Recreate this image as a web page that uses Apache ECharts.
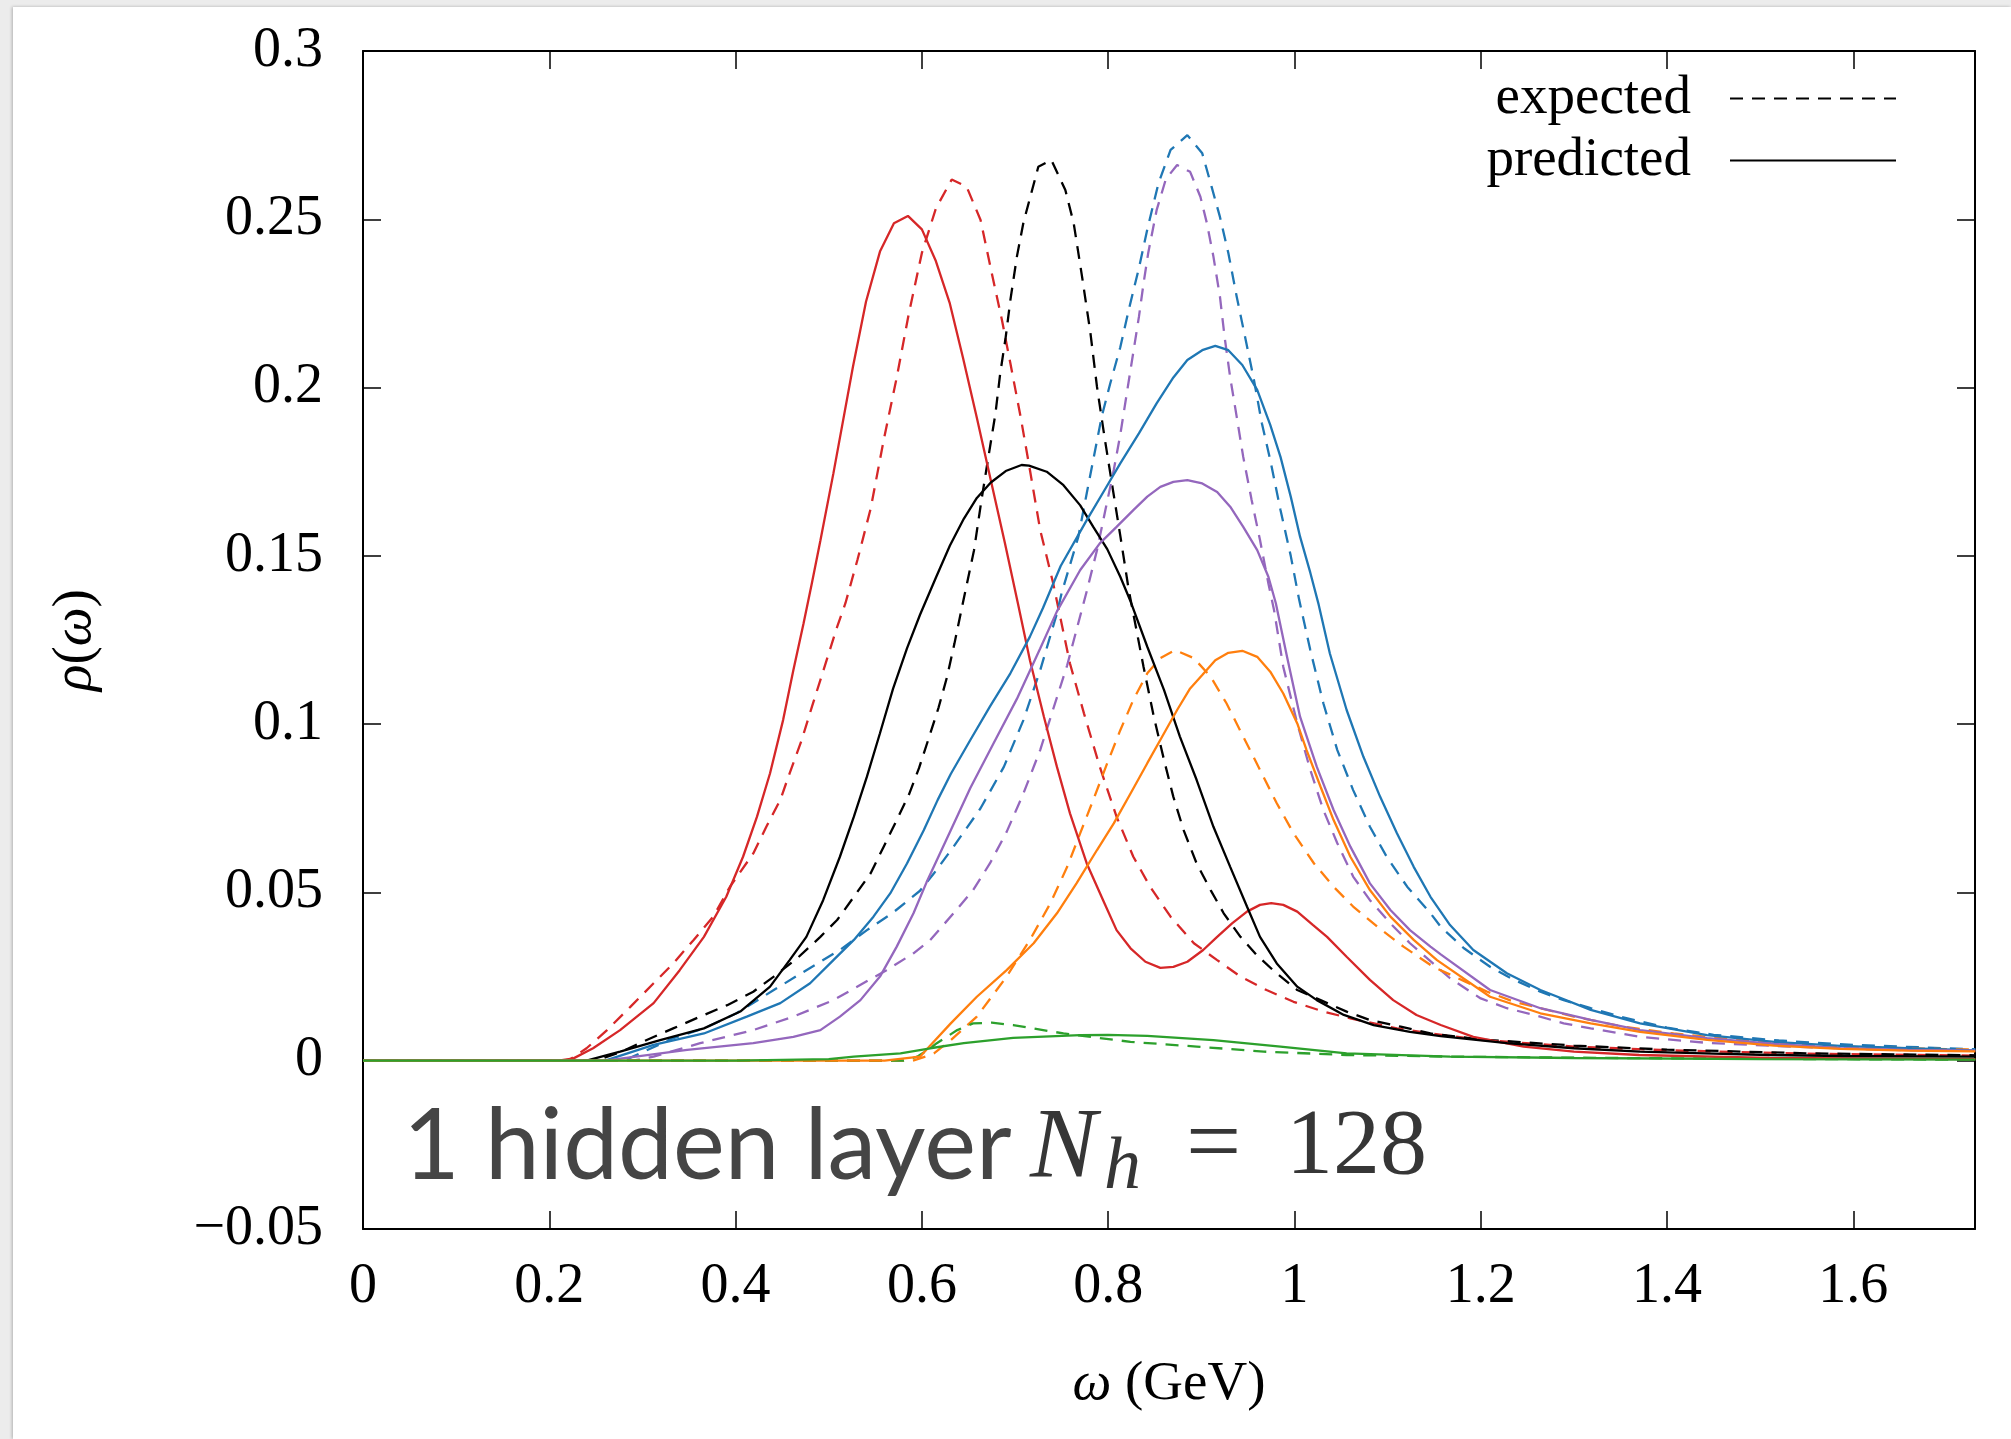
<!DOCTYPE html>
<html>
<head>
<meta charset="utf-8">
<title>Spectral function reconstruction</title>
<script src="https://cdn.jsdelivr.net/npm/echarts@6/dist/echarts.min.js"></script>
<style>
  html, body { margin: 0; padding: 0; width: 2011px; height: 1439px; background: #ececec; overflow: hidden; }
  #card { position: absolute; left: 13px; top: 7px; right: 0; bottom: 0; background: #ffffff;
          box-shadow: -1px 0 3px rgba(0,0,0,0.25); }
  #chart { position: absolute; left: 0; top: 0; width: 2011px; height: 1439px; }
</style>
</head>
<body>
<div id="card"></div>
<div id="chart"></div>
<script>
// Axis ticks and their printed labels
const omegaTicks = [0, 0.2, 0.4, 0.6, 0.8, 1.0, 1.2, 1.4, 1.6];
const omegaTickLabels = ['0', '0.2', '0.4', '0.6', '0.8', '1', '1.2', '1.4', '1.6'];
const rhoTicks = [-0.05, 0, 0.05, 0.1, 0.15, 0.2, 0.25, 0.3];
const rhoTickLabels = ['\u22120.05', '0', '0.05', '0.1', '0.15', '0.2', '0.25', '0.3'];

// Spectral functions rho(omega): [omega (GeV), rho]
const redExpected = [[0,0],[0.22,0],[0.240,0.0037],[0.262,0.0091],[0.287,0.016],[0.312,0.023],[0.333,0.0289],[0.355,0.0359],[0.376,0.0428],[0.394,0.0517],[0.419,0.0616],[0.433,0.0695],[0.448,0.0775],[0.458,0.0854],[0.471,0.0953],[0.482,0.1052],[0.491,0.1131],[0.500,0.121],[0.509,0.1289],[0.518,0.136],[0.531,0.149],[0.545,0.1640],[0.559,0.1844],[0.573,0.203],[0.586,0.222],[0.600,0.240],[0.615,0.2532],[0.632,0.2618],[0.648,0.2597],[0.663,0.2498],[0.675,0.234],[0.686,0.220],[0.695,0.2072],[0.706,0.1913],[0.716,0.1755],[0.727,0.1577],[0.741,0.1418],[0.759,0.118],[0.774,0.1032],[0.791,0.0873],[0.809,0.0725],[0.827,0.0606],[0.845,0.0517],[0.867,0.0428],[0.892,0.0349],[0.917,0.0299],[0.942,0.025],[0.970,0.021],[0.999,0.0175],[1.031,0.0146],[1.06,0.0126],[1.11,0.0096],[1.146,0.0081],[1.2,0.0062],[1.3,0.0042],[1.4,0.0031],[1.55,0.0021],[1.731,0.0015]];
const redPredicted = [[0,0],[0.21,0],[0.226,0.0007],[0.247,0.0037],[0.276,0.0091],[0.312,0.0171],[0.340,0.0269],[0.366,0.0368],[0.390,0.0487],[0.408,0.0606],[0.423,0.0725],[0.437,0.0854],[0.451,0.1012],[0.462,0.1160],[0.473,0.1300],[0.482,0.1420],[0.491,0.1545],[0.505,0.1745],[0.526,0.2062],[0.540,0.2255],[0.555,0.2404],[0.570,0.2488],[0.585,0.251],[0.600,0.247],[0.615,0.2376],[0.630,0.225],[0.644,0.209],[0.659,0.191],[0.674,0.1725],[0.689,0.154],[0.703,0.1360],[0.716,0.119],[0.731,0.1022],[0.745,0.0873],[0.759,0.0735],[0.777,0.0586],[0.796,0.0468],[0.809,0.0388],[0.824,0.0334],[0.840,0.0294],[0.856,0.0276],[0.870,0.0279],[0.885,0.0294],[0.902,0.0329],[0.917,0.0368],[0.933,0.0408],[0.949,0.0443],[0.963,0.0463],[0.975,0.0468],[0.988,0.0463],[1.003,0.0443],[1.020,0.0403],[1.035,0.0368],[1.056,0.0309],[1.081,0.024],[1.106,0.018],[1.131,0.0136],[1.157,0.0106],[1.192,0.0071],[1.246,0.0042],[1.30,0.0027],[1.37,0.0017],[1.51,0.0008],[1.731,0.0005]];
const blackExpected = [[0,0],[0.25,0],[0.276,0.0025],[0.304,0.0061],[0.333,0.0096],[0.362,0.0131],[0.391,0.0165],[0.419,0.0205],[0.441,0.025],[0.466,0.0304],[0.491,0.0368],[0.509,0.0418],[0.527,0.0487],[0.545,0.0557],[0.559,0.0636],[0.573,0.0715],[0.586,0.0790],[0.597,0.0870],[0.607,0.0955],[0.618,0.1050],[0.627,0.114],[0.635,0.124],[0.644,0.136],[0.656,0.1517],[0.664,0.1666],[0.670,0.1770],[0.679,0.1923],[0.684,0.204],[0.690,0.215],[0.695,0.226],[0.702,0.2389],[0.709,0.2490],[0.725,0.2656],[0.739,0.2676],[0.754,0.2587],[0.763,0.2488],[0.772,0.2329],[0.781,0.2161],[0.788,0.2002],[0.796,0.1854],[0.804,0.1715],[0.813,0.1560],[0.822,0.1400],[0.838,0.117],[0.849,0.1022],[0.860,0.0893],[0.870,0.0784],[0.881,0.0685],[0.895,0.0586],[0.910,0.0507],[0.924,0.0438],[0.942,0.0368],[0.959,0.0315],[0.977,0.0269],[1.003,0.021],[1.028,0.018],[1.056,0.0146],[1.081,0.0121],[1.114,0.0101],[1.146,0.0081],[1.2,0.0063],[1.3,0.0045],[1.4,0.0033],[1.55,0.0022],[1.731,0.0016]];
const blackPredicted = [[0,0],[0.24,0],[0.276,0.0027],[0.319,0.0061],[0.366,0.0096],[0.405,0.0146],[0.437,0.022],[0.458,0.0299],[0.476,0.0368],[0.494,0.0477],[0.512,0.0606],[0.527,0.0725],[0.541,0.0844],[0.555,0.0973],[0.569,0.1105],[0.584,0.1225],[0.598,0.1325],[0.615,0.1435],[0.630,0.1530],[0.645,0.1610],[0.659,0.1672],[0.674,0.1718],[0.690,0.1752],[0.707,0.1770],[0.715,0.1768],[0.734,0.175],[0.752,0.171],[0.770,0.165],[0.784,0.1586],[0.799,0.1520],[0.813,0.1438],[0.824,0.1365],[0.842,0.123],[0.860,0.1101],[0.877,0.0963],[0.895,0.0834],[0.913,0.0695],[0.931,0.0576],[0.949,0.0458],[0.963,0.0368],[0.981,0.0289],[1.003,0.022],[1.024,0.018],[1.053,0.0136],[1.085,0.0106],[1.124,0.0086],[1.157,0.0073],[1.228,0.0052],[1.30,0.0037],[1.371,0.0027],[1.44,0.0022],[1.51,0.0017],[1.59,0.0014],[1.731,0.0012]];
const blueExpected = [[0,0],[0.28,0],[0.333,0.0067],[0.366,0.0096],[0.401,0.0141],[0.441,0.021],[0.476,0.0269],[0.512,0.0329],[0.541,0.0388],[0.569,0.0440],[0.598,0.0505],[0.613,0.0557],[0.634,0.0636],[0.663,0.0750],[0.688,0.0873],[0.709,0.1012],[0.727,0.116],[0.745,0.1329],[0.750,0.1389],[0.768,0.1557],[0.777,0.1686],[0.786,0.1814],[0.793,0.1913],[0.802,0.2010],[0.813,0.2120],[0.822,0.223],[0.833,0.2355],[0.842,0.2470],[0.854,0.2607],[0.867,0.2706],[0.885,0.275],[0.901,0.2696],[0.911,0.2597],[0.920,0.2507],[0.929,0.240],[0.938,0.227],[0.947,0.215],[0.956,0.203],[0.965,0.1894],[0.974,0.1785],[0.985,0.1636],[0.996,0.1500],[1.005,0.1370],[1.017,0.122],[1.031,0.1062],[1.046,0.0923],[1.063,0.0804],[1.081,0.0695],[1.099,0.0606],[1.121,0.0517],[1.146,0.0438],[1.157,0.0398],[1.182,0.0334],[1.21,0.0279],[1.236,0.024],[1.264,0.0205],[1.289,0.018],[1.318,0.0156],[1.35,0.0131],[1.40,0.0098],[1.45,0.0077],[1.52,0.006],[1.6,0.0047],[1.731,0.0034]];
const bluePredicted = [[0,0],[0.26,0],[0.312,0.0047],[0.366,0.0081],[0.412,0.0131],[0.448,0.0171],[0.480,0.023],[0.505,0.0299],[0.527,0.0359],[0.548,0.0428],[0.566,0.0497],[0.584,0.0586],[0.602,0.0685],[0.617,0.0775],[0.631,0.0852],[0.652,0.0953],[0.673,0.1052],[0.695,0.1151],[0.716,0.126],[0.730,0.1345],[0.749,0.1470],[0.777,0.1606],[0.796,0.1695],[0.813,0.1775],[0.833,0.1864],[0.852,0.1953],[0.870,0.203],[0.885,0.2082],[0.901,0.2111],[0.915,0.2124],[0.929,0.2111],[0.944,0.2067],[0.960,0.1993],[0.974,0.1889],[0.985,0.1794],[0.996,0.1676],[1.006,0.1557],[1.017,0.1450],[1.026,0.1355],[1.038,0.1210],[1.056,0.1042],[1.074,0.0903],[1.092,0.0784],[1.11,0.0676],[1.128,0.0576],[1.146,0.0487],[1.167,0.0403],[1.192,0.0329],[1.228,0.026],[1.264,0.021],[1.318,0.0151],[1.371,0.0111],[1.443,0.0076],[1.515,0.0056],[1.586,0.0044],[1.658,0.0037],[1.731,0.0031]];
const purpleExpected = [[0,0],[0.29,0],[0.312,0.0012],[0.362,0.0052],[0.419,0.0091],[0.462,0.0131],[0.505,0.018],[0.537,0.023],[0.562,0.0269],[0.591,0.0319],[0.609,0.0359],[0.634,0.0438],[0.655,0.0507],[0.673,0.0586],[0.691,0.0680],[0.709,0.0794],[0.727,0.0923],[0.741,0.1045],[0.756,0.1175],[0.766,0.1280],[0.777,0.1395],[0.788,0.1517],[0.797,0.1636],[0.806,0.1755],[0.813,0.1860],[0.820,0.1983],[0.827,0.2105],[0.833,0.2210],[0.838,0.2310],[0.843,0.2400],[0.852,0.2527],[0.862,0.262],[0.874,0.2661],[0.888,0.2641],[0.899,0.2567],[0.906,0.2488],[0.913,0.2389],[0.920,0.227],[0.925,0.215],[0.931,0.203],[0.938,0.1913],[0.945,0.1794],[0.954,0.1666],[0.963,0.1547],[0.972,0.1418],[0.978,0.134],[0.988,0.117],[1.003,0.1002],[1.017,0.0864],[1.031,0.0745],[1.046,0.0646],[1.063,0.0547],[1.081,0.0477],[1.103,0.0408],[1.124,0.0349],[1.153,0.0279],[1.167,0.0245],[1.20,0.0185],[1.228,0.0156],[1.257,0.0136],[1.289,0.0111],[1.318,0.0096],[1.371,0.0071],[1.443,0.0053],[1.515,0.0044],[1.586,0.0037],[1.658,0.0031],[1.731,0.0029]];
const purplePredicted = [[0,0],[0.26,0],[0.348,0.0032],[0.419,0.0052],[0.462,0.0071],[0.491,0.0091],[0.512,0.0131],[0.534,0.018],[0.555,0.025],[0.573,0.0339],[0.591,0.0438],[0.605,0.0530],[0.631,0.0685],[0.652,0.0810],[0.677,0.0943],[0.702,0.1075],[0.727,0.1225],[0.745,0.1335],[0.770,0.1458],[0.791,0.1537],[0.809,0.1586],[0.827,0.1636],[0.842,0.1676],[0.856,0.1705],[0.870,0.172],[0.885,0.1725],[0.901,0.1715],[0.917,0.169],[0.931,0.1646],[0.945,0.1586],[0.960,0.1517],[0.972,0.1438],[0.980,0.1359],[0.992,0.12],[1.006,0.1022],[1.024,0.0873],[1.042,0.0745],[1.06,0.0636],[1.081,0.0527],[1.103,0.0448],[1.124,0.0388],[1.146,0.0339],[1.157,0.0316],[1.21,0.021],[1.264,0.0156],[1.318,0.0121],[1.371,0.0091],[1.443,0.0067],[1.515,0.005],[1.586,0.0037],[1.658,0.0032],[1.731,0.003]];
const orangeExpected = [[0,0],[0.59,0],[0.607,0.0015],[0.613,0.0022],[0.631,0.0061],[0.659,0.0131],[0.691,0.025],[0.716,0.0359],[0.738,0.0468],[0.756,0.0576],[0.770,0.0676],[0.784,0.0775],[0.799,0.0884],[0.813,0.0982],[0.827,0.1072],[0.842,0.1151],[0.856,0.1196],[0.872,0.122],[0.892,0.1196],[0.910,0.1141],[0.927,0.1062],[0.945,0.0963],[0.963,0.0864],[0.981,0.0765],[0.999,0.0676],[1.021,0.0586],[1.042,0.0517],[1.063,0.0458],[1.089,0.0398],[1.117,0.0339],[1.149,0.0279],[1.207,0.0205],[1.236,0.0175],[1.264,0.0156],[1.30,0.0131],[1.353,0.0101],[1.407,0.0081],[1.479,0.0061],[1.55,0.0047],[1.62,0.0039],[1.731,0.0033]];
const orangePredicted = [[0,0],[0.56,0],[0.598,0.0012],[0.609,0.0045],[0.631,0.0111],[0.659,0.019],[0.691,0.0269],[0.720,0.0349],[0.745,0.0438],[0.766,0.0527],[0.788,0.0626],[0.806,0.0705],[0.824,0.0794],[0.842,0.0884],[0.860,0.0973],[0.874,0.1042],[0.888,0.1106],[0.901,0.1146],[0.915,0.119],[0.929,0.1212],[0.944,0.1218],[0.960,0.12],[0.974,0.1156],[0.988,0.1091],[1.003,0.1002],[1.013,0.0923],[1.028,0.0814],[1.042,0.0715],[1.06,0.0606],[1.081,0.0507],[1.103,0.0428],[1.128,0.0359],[1.153,0.0299],[1.21,0.019],[1.264,0.0141],[1.318,0.0111],[1.371,0.0086],[1.443,0.0062],[1.515,0.0045],[1.586,0.0035],[1.658,0.003],[1.731,0.0028]];
const greenExpected = [[0,0],[0.58,0],[0.595,0.0012],[0.609,0.0037],[0.616,0.0052],[0.638,0.0091],[0.655,0.0111],[0.675,0.0113],[0.698,0.0106],[0.752,0.0081],[0.824,0.0056],[0.895,0.0042],[0.967,0.0027],[1.056,0.0017],[1.17,0.0012],[1.35,0.0008],[1.55,0.0005],[1.731,0.0003]];
const greenPredicted = [[0,0],[0.40,0],[0.50,0.0005],[0.527,0.0012],[0.577,0.0022],[0.609,0.0037],[0.645,0.0052],[0.698,0.0068],[0.770,0.0076],[0.800,0.0077],[0.842,0.0074],[0.913,0.0061],[0.985,0.0042],[1.056,0.0022],[1.167,0.0012],[1.3,0.0008],[1.5,0.0005],[1.731,0.0003]];

const SERIF = '"Liberation Serif", "DejaVu Serif", serif';
const DASH = [13, 9];

function curve(name, data, color, dashed) {
  return {
    name: name,
    type: 'line',
    data: data,
    showSymbol: false,
    symbol: 'none',
    smooth: false,
    silent: true,
    animation: false,
    lineStyle: { color: color, width: 2.3, type: dashed ? DASH : 'solid' },
    z: dashed ? 2 : 3
  };
}

function tickLabel(values, labels) {
  return function (v) {
    for (let i = 0; i < values.length; i++) {
      if (Math.abs(values[i] - v) < 1e-6) return labels[i];
    }
    return '';
  };
}

const chart = echarts.init(document.getElementById('chart'), null, { renderer: 'canvas' });

const tickStyle = { show: true, inside: true, length: 18, lineStyle: { color: '#000', width: 1.5 } };
const frameLine = { show: true, onZero: false, lineStyle: { color: '#000', width: 2 } };

chart.setOption({
  backgroundColor: 'transparent',
  animation: false,
  grid: { left: 363, top: 51, width: 1612, height: 1178, containLabel: false },
  legend: {
    right: 109,
    top: 66,
    orient: 'vertical',
    align: 'right',
    itemWidth: 166,
    itemHeight: 20,
    itemGap: 7,
    selectedMode: false,
    data: ['expected', 'predicted'],
    itemStyle: { opacity: 0 },
    textStyle: { fontFamily: SERIF, fontSize: 55, color: '#000', lineHeight: 55, padding: [0, 34, 0, 0] }
  },
  xAxis: [
    {
      type: 'value', position: 'bottom', min: 0, max: 1.7306,
      name: '{i|\u03c9} (GeV)', nameLocation: 'middle', nameGap: 128,
      nameTextStyle: { fontFamily: SERIF, fontSize: 55, color: '#000',
        rich: { i: { fontFamily: SERIF, fontStyle: 'italic', fontSize: 55, color: '#000' } } },
      axisLine: frameLine,
      axisTick: Object.assign({}, tickStyle, { customValues: omegaTicks }),
      axisLabel: { customValues: omegaTicks, formatter: tickLabel(omegaTicks, omegaTickLabels),
        margin: 30, fontFamily: SERIF, fontSize: 56, color: '#000' },
      splitLine: { show: false }
    },
    {
      type: 'value', position: 'top', min: 0, max: 1.7306,
      axisLine: frameLine,
      axisTick: Object.assign({}, tickStyle, { customValues: omegaTicks }),
      axisLabel: { show: false },
      splitLine: { show: false }
    }
  ],
  yAxis: [
    {
      type: 'value', position: 'left', min: -0.05, max: 0.3,
      name: '{i|\u03c1}({i|\u03c9})', nameLocation: 'middle', nameGap: 260, nameRotate: 90,
      nameTextStyle: { fontFamily: SERIF, fontSize: 55, color: '#000',
        rich: { i: { fontFamily: SERIF, fontStyle: 'italic', fontSize: 55, color: '#000' } } },
      axisLine: frameLine,
      axisTick: Object.assign({}, tickStyle, { customValues: rhoTicks }),
      axisLabel: { customValues: rhoTicks, formatter: tickLabel(rhoTicks, rhoTickLabels),
        margin: 40, fontFamily: SERIF, fontSize: 56, color: '#000' },
      splitLine: { show: false }
    },
    {
      type: 'value', position: 'right', min: -0.05, max: 0.3,
      axisLine: frameLine,
      axisTick: Object.assign({}, tickStyle, { customValues: rhoTicks }),
      axisLabel: { show: false },
      splitLine: { show: false }
    }
  ],
  graphic: [
    { type: 'text', left: 403, top: 1098, silent: true,
      style: { text: '1 hidden layer', font: '98px Lato, "Open Sans", sans-serif', fill: '#454545' } },
    { type: 'text', left: 1030, top: 1100, silent: true,
      style: { text: 'N', font: 'italic 100px ' + SERIF, fill: '#363636' } },
    { type: 'text', left: 1104, top: 1132, silent: true,
      style: { text: 'h', font: 'italic 74px ' + SERIF, fill: '#363636' } },
    { type: 'text', left: 1186, top: 1098, silent: true,
      style: { text: '=', font: '98px ' + SERIF, fill: '#363636' } },
    { type: 'text', left: 1286, top: 1101, silent: true,
      style: { text: '128', font: '94px ' + SERIF, fill: '#363636' } }
  ],
  series: [
    { name: 'expected', type: 'line', data: [], symbol: 'none', showSymbol: false, color: '#000',
      lineStyle: { color: '#000', width: 2.3, type: DASH } },
    { name: 'predicted', type: 'line', data: [], symbol: 'none', showSymbol: false, color: '#000',
      lineStyle: { color: '#000', width: 2.3, type: 'solid' } },
    curve('red expected', redExpected, '#d62728', true),
    curve('black expected', blackExpected, '#000000', true),
    curve('blue expected', blueExpected, '#1f77b4', true),
    curve('purple expected', purpleExpected, '#9467bd', true),
    curve('orange expected', orangeExpected, '#ff7f0e', true),
    curve('green expected', greenExpected, '#2ca02c', true),
    curve('red predicted', redPredicted, '#d62728', false),
    curve('black predicted', blackPredicted, '#000000', false),
    curve('blue predicted', bluePredicted, '#1f77b4', false),
    curve('purple predicted', purplePredicted, '#9467bd', false),
    curve('orange predicted', orangePredicted, '#ff7f0e', false),
    curve('green predicted', greenPredicted, '#2ca02c', false)
  ]
});
</script>
</body>
</html>
